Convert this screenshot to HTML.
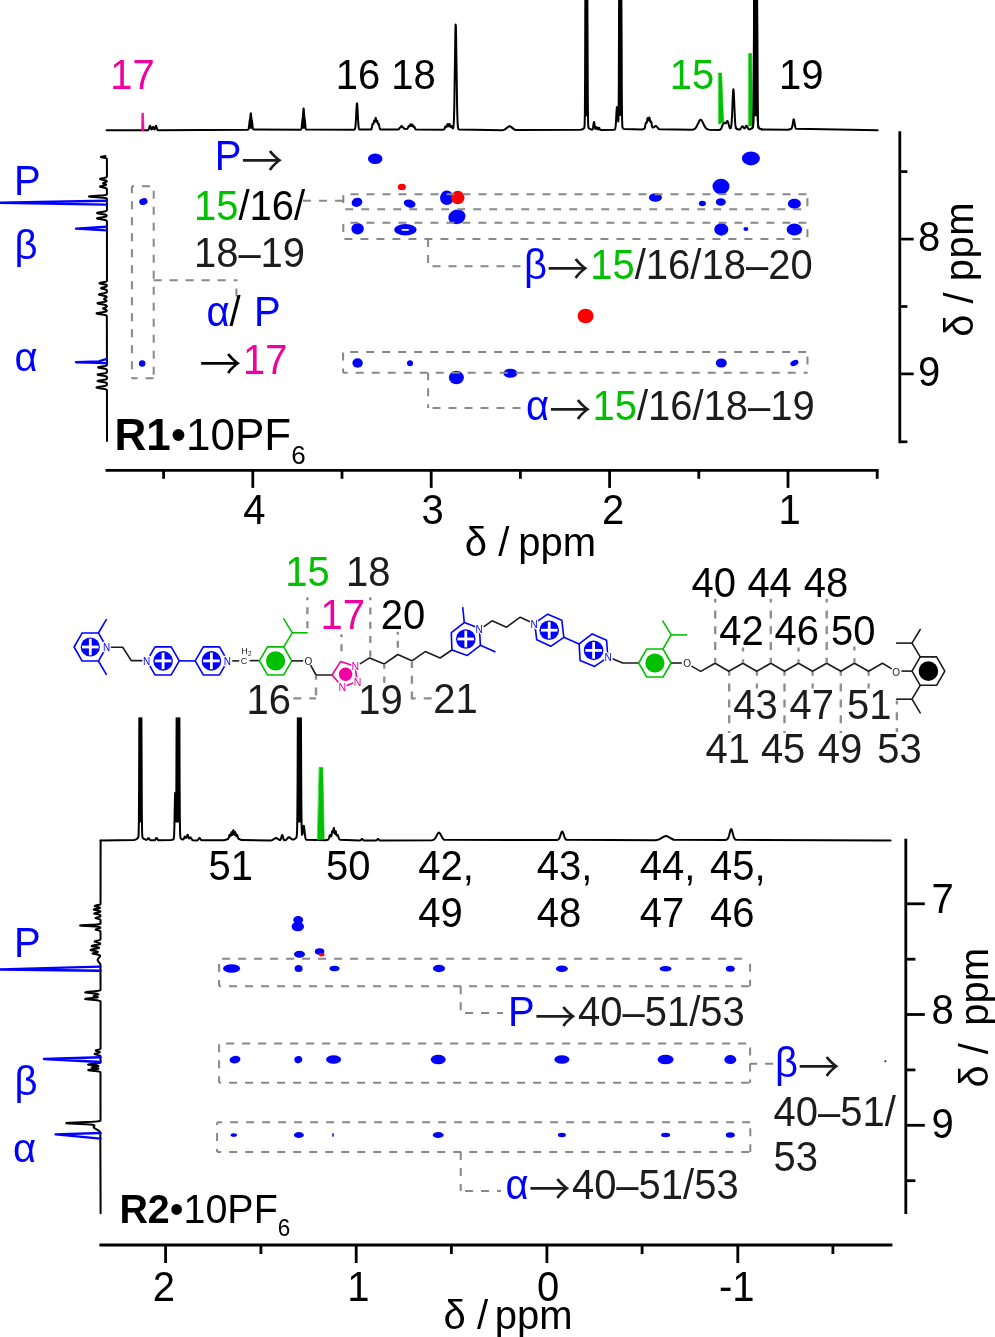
<!DOCTYPE html>
<html lang="en"><head><meta charset="utf-8"><title>NOESY spectra R1 and R2</title>
<style>html,body{margin:0;padding:0;background:#fff}svg{display:block}text{font-family:"Liberation Sans",sans-serif}.ar{font-family:"Noto Sans CJK SC","Noto Sans CJK JP","DejaVu Sans",sans-serif}</style></head><body>
<svg width="995" height="1337" viewBox="0 0 995 1337">
<rect width="995" height="1337" fill="#fff"/>
<path d="M106.6 130.3 L147.85 130.25 L148.1 130.18 L148.35 130.02 L148.6 129.69 L148.85 129.13 L149.6 126.47 L149.85 125.9 L150.1 125.84 L150.35 126.32 L151.1 128.9 L151.35 129.38 L151.6 129.49 L151.85 129.25 L152.6 127.32 L152.85 126.87 L153.1 126.83 L153.35 127.2 L154.1 129.16 L154.35 129.47 L154.6 129.43 L154.85 129.02 L155.6 126.47 L155.85 125.9 L156.1 125.84 L156.35 126.32 L157.1 128.99 L157.35 129.59 L157.6 129.96 L157.85 130.16 L247.35 129.77 L248.1 129.58 L248.35 129.36 L248.6 128.8 L248.85 127.56 L249.6 121 L250.1 119 L250.6 114.1 L250.85 113.23 L251.1 115.11 L251.35 117.85 L251.6 119.49 L251.85 120.3 L252.1 121.67 L252.6 126.4 L252.85 128.15 L253.1 129.08 L253.35 129.47 L299.85 129.81 L300.85 129.59 L301.1 129.39 L301.35 128.87 L301.6 127.66 L302.35 120.25 L302.85 117.36 L303.35 110.44 L303.6 108.48 L303.85 110.44 L304.35 117.35 L304.85 120.25 L305.6 127.66 L305.85 128.87 L306.1 129.39 L306.35 129.58 L353.6 129.77 L354.35 129.59 L354.6 129.44 L354.85 129.11 L355.1 128.44 L355.35 127.12 L355.6 124.82 L356.1 116.62 L356.6 106.65 L356.85 103.71 L357.1 103.42 L357.35 105.88 L358.1 120.43 L358.35 124.2 L358.6 126.72 L358.85 128.2 L359.1 128.98 L359.35 129.35 L359.85 129.61 L370.6 129.6 L371.1 129.46 L371.35 129.23 L371.6 128.74 L371.85 127.81 L372.35 124.98 L372.6 123.96 L372.85 123.74 L373.1 124.03 L373.35 124.07 L373.6 123.28 L374.1 120.78 L374.35 120.67 L374.6 121.3 L374.85 121.64 L375.1 120.85 L375.6 117.93 L375.85 118.09 L376.35 121.1 L376.6 121.65 L377.1 120.6 L377.35 120.93 L377.85 123.49 L378.1 124.1 L378.6 123.71 L378.85 124.09 L379.6 128.01 L379.85 128.85 L380.1 129.27 L380.35 129.46 L398.1 129.62 L398.6 129.43 L398.85 129.2 L399.6 127.95 L399.85 127.68 L400.35 127.57 L400.6 127.41 L401.35 125.84 L401.6 125.76 L401.85 126.14 L402.35 127.16 L402.6 127.32 L403.1 127.3 L403.35 127.49 L404.1 128.6 L404.35 128.8 L404.85 128.92 L407.1 128.72 L407.35 128.61 L407.6 128.38 L407.85 127.96 L408.6 126.14 L408.85 125.96 L409.1 126.15 L409.35 126.46 L409.6 126.53 L409.85 126.13 L410.35 124.55 L410.6 124.23 L410.85 124.54 L411.35 125.88 L411.6 125.97 L411.85 125.49 L412.1 124.81 L412.35 124.43 L412.6 124.69 L413.1 126.35 L413.35 126.89 L413.6 126.95 L414.1 126.5 L414.35 126.64 L415.1 128.51 L415.35 128.99 L415.6 129.28 L416.1 129.49 L443.35 129.63 L443.85 129.51 L444.1 129.35 L444.35 129.04 L445.35 126.45 L445.6 126.34 L445.85 126.64 L446.1 127.1 L446.35 127.3 L446.6 126.98 L447.35 124.16 L447.6 124.03 L447.85 124.64 L448.35 126.28 L448.6 126.34 L448.85 125.7 L449.35 123.97 L449.6 123.9 L449.85 124.57 L450.35 126.56 L450.6 126.98 L450.85 126.83 L451.35 125.96 L451.6 125.94 L451.85 126.38 L452.35 127.77 L452.6 128.25 L452.85 128.41 L453.1 128.17 L453.35 127.3 L453.6 125.32 L453.85 121.37 L454.1 114.36 L454.35 103.27 L455.35 33.34 L455.6 24.62 L455.85 25.65 L456.1 36.15 L457.1 106.09 L457.35 116.35 L457.6 122.7 L457.85 126.22 L458.1 128 L458.35 128.83 L458.6 129.21 L459.1 129.49 L502.85 130.13 L504.6 129.63 L508.6 126.55 L509.35 126.28 L510.1 126.34 L511.1 126.88 L514.1 129.37 L515.85 130.05 L580.6 129.73 L582.6 129.17 L583.6 128.57 L584.1 128.06 L584.35 127.48 L584.6 125.19 L584.85 114.85 L585.1 75.67 L585.35 -10 L587.35 -10 L587.85 104.59 L588.1 122.71 L588.35 126.94 L588.6 127.89 L589.1 128.47 L590.6 129.32 L591.85 129.63 L592.1 129.64 L592.35 129.55 L592.6 129.24 L592.85 128.52 L593.1 127.23 L593.6 123.47 L593.85 122.14 L594.1 122.03 L594.35 123.18 L594.85 126.97 L595.1 128.29 L595.35 128.88 L595.6 128.8 L596.35 127.12 L596.6 127.08 L596.85 127.51 L597.35 128.9 L597.6 129.34 L597.85 129.43 L598.1 129.18 L598.6 128.08 L598.85 127.66 L599.1 127.63 L599.35 127.99 L599.85 129.18 L600.1 129.64 L600.35 129.91 L600.85 130.09 L614.1 129.73 L614.6 129.59 L614.85 129.41 L615.1 129 L615.35 128.13 L615.6 126.46 L615.85 123.65 L616.6 110.38 L616.85 107.44 L617.1 107.01 L617.35 109.2 L618.1 121.03 L618.35 121.41 L618.6 113.04 L618.85 79.81 L619.1 -10 L621.35 -10 L621.6 34.84 L621.85 98.77 L622.1 120.33 L622.35 126.29 L622.6 127.78 L622.85 128.23 L623.85 128.96 L641.6 129.44 L643.85 129.03 L644.35 128.75 L644.6 128.39 L644.85 127.71 L645.6 123.67 L645.85 122.68 L646.1 122.46 L646.35 122.76 L646.6 122.92 L646.85 122.28 L647.35 119.02 L647.6 117.98 L647.85 118.18 L648.35 120.29 L648.6 120.33 L649.1 118 L649.35 117.43 L649.6 118.11 L650.1 121.21 L650.35 121.95 L650.6 121.85 L650.85 121.46 L651.1 121.5 L651.35 122.31 L652.1 126.35 L652.35 127.08 L652.6 127.45 L652.85 127.58 L653.35 127.54 L655.35 126.11 L655.85 125.99 L656.35 126.18 L658.6 128.82 L659.35 129.33 L692.35 129.67 L694.1 129.19 L695.1 128.55 L696.1 127.41 L699.35 120.94 L699.85 120.23 L700.35 119.82 L700.6 119.74 L700.85 119.75 L701.35 120.03 L701.85 120.62 L704.85 126.7 L705.85 128.1 L706.85 128.95 L708.85 129.63 L719.1 129.95 L719.85 129.77 L720.35 129.5 L720.85 129 L721.6 127.73 L723.1 123.99 L723.6 123.14 L723.85 122.91 L724.1 122.82 L724.35 122.85 L725.1 123.3 L725.35 123.38 L725.6 123.35 L725.85 123.17 L726.85 121.44 L727.1 121.12 L727.35 121.01 L727.6 121.16 L727.85 121.6 L729.35 126.87 L729.85 127.97 L730.1 128.26 L730.35 128.36 L730.6 128.25 L730.85 127.85 L731.1 127 L731.35 125.49 L731.6 123.02 L732.1 114.41 L732.85 95.77 L733.1 91.26 L733.35 89.22 L733.6 90.11 L733.85 93.72 L734.85 117.53 L735.1 121.72 L735.35 124.65 L735.6 126.55 L735.85 127.69 L736.1 128.34 L736.35 128.72 L736.85 129.09 L738.85 129.57 L739.6 129.51 L740.1 129.27 L740.6 128.78 L741.85 126.81 L742.1 126.53 L742.35 126.37 L742.6 126.36 L742.85 126.49 L744.1 128.18 L744.35 128.38 L744.6 128.42 L744.85 128.29 L745.35 127.54 L746.1 126.05 L746.35 125.79 L746.6 125.76 L746.85 125.97 L748.1 128.5 L748.6 129.11 L749.1 129.33 L750.35 129.14 L751.85 128.41 L752.35 127.99 L752.6 127.67 L752.85 127.05 L753.1 125.41 L753.35 120.5 L753.6 106.53 L753.85 71.23 L754.1 -6.23 L754.35 -10 L756.85 -10 L757.1 -6.22 L757.35 71.25 L757.6 106.55 L757.85 120.51 L758.1 125.43 L758.35 127.07 L758.6 127.69 L759.35 128.44 L761.6 129.4 L788.1 129.69 L790.6 129.04 L791.35 128.59 L791.6 128.31 L791.85 127.86 L792.1 127.16 L792.6 124.75 L793.35 120.07 L793.6 119.33 L793.85 119.41 L794.1 120.3 L795.1 126.37 L795.35 127.33 L795.6 127.97 L795.85 128.38 L796.35 128.82 L877.6 130.29" fill="none" stroke="#000" stroke-width="2" stroke-linejoin="round" stroke-linecap="round" />
<path d="M582.4 116.3 L583.65 116.3 L584.15 116.3 L584.4 116.3 L584.65 116.3 L584.9 110.39 L585.15 60.75 L585.4 -10 L587.4 -10 L587.65 60.75 L587.9 110.39 L588.15 116.3 L588.4 116.3 L588.65 116.3 L589.4 116.3 L590.4 116.3 Z" fill="#000" stroke="none"/>
<path d="M616.3 115.85 L616.55 111.2 L616.8 107.85 L617.05 106.88 L617.3 108.59 L618.05 116.3 L618.3 116.3 L618.55 115.96 L618.8 89.8 L619.05 12.93 L619.3 -10 L621.3 -10 L621.55 13.22 L621.8 90.59 L622.05 116.3 L622.3 116.3 L622.55 116.3 L622.8 116.3 L623.8 116.3 L624.3 116.3 Z" fill="#000" stroke="none"/>
<path d="M247.8 128.8 L248.05 128.8 L248.3 128.8 L248.55 128.8 L248.8 127.87 L249.55 121.31 L250.05 119.27 L250.3 117.36 L250.55 114.57 L250.8 113.16 L251.05 114.57 L251.3 117.36 L251.55 119.27 L252.05 121.31 L252.8 127.87 L253.05 128.8 L253.3 128.8 L253.55 128.8 L253.8 128.8 Z" fill="#000" stroke="none"/>
<path d="M300.6 128.8 L300.85 128.8 L301.1 128.8 L301.35 128.8 L301.6 127.66 L302.35 120.25 L302.85 117.36 L303.35 110.44 L303.6 108.48 L303.85 110.44 L304.35 117.35 L304.85 120.25 L305.6 127.66 L305.85 128.8 L306.1 128.8 L306.35 128.8 L306.6 128.8 Z" fill="#000" stroke="none"/>
<path d="M142.2 113.2 L143.4 113.2 L144 130.6 L142 130.6 Z" fill="#f000a0" stroke="#f000a0" stroke-width="0.8" stroke-linejoin="round" stroke-linecap="round" />
<path d="M718.6 73 L721.6 73 L723.6 122 L718.8 124 Z" fill="#00c000" stroke="#00c000" stroke-width="0.6" stroke-linejoin="round" stroke-linecap="round" />
<path d="M748.8 53.6 L751.6 53.6 L752.6 126 L748.6 126 Z" fill="#00c000" stroke="#00c000" stroke-width="0.6" stroke-linejoin="round" stroke-linecap="round" />
<path d="M752.2 128.13 L752.45 127.88 L752.7 127.48 L752.95 126.6 L753.2 124.05 L753.45 116.51 L753.7 95.95 L754.2 -10 L756.95 -10 L757.2 31.48 L757.45 89.07 L757.7 113.82 L757.95 123.13 L758.2 126.3 L758.45 127.38 L758.7 127.84 L759.7 128.66 L761.95 129.48" fill="none" stroke="#000" stroke-width="2" stroke-linejoin="round" stroke-linecap="round" />
<path d="M751.6 116.3 L752.35 116.3 L752.6 116.3 L752.85 116.3 L753.1 116.3 L753.35 116.3 L753.6 106.53 L753.85 71.23 L754.1 -6.23 L754.35 -10 L756.85 -10 L757.1 -6.22 L757.35 71.25 L757.6 106.55 L757.85 116.3 L758.1 116.3 L758.35 116.3 L758.6 116.3 L759.35 116.3 L759.6 116.3 Z" fill="#000" stroke="none"/>
<text transform="translate(110.32 89.2) scale(1 1.04)" font-size="40" fill="#f000a0" text-anchor="start" >17</text>
<text transform="translate(335.64 89.2) scale(1 1.04)" font-size="40" fill="#000" text-anchor="start" >16 18</text>
<text transform="translate(669.69 89.2) scale(1 1.04)" font-size="40" fill="#00c000" text-anchor="start" >15</text>
<text transform="translate(779 89.2) scale(1 1.04)" font-size="40" fill="#000" text-anchor="start" >19</text>
<path d="M105.5 156 L101.5 156.75 L101 157 L101.5 157.25 L105.5 158 L106.32 158.25 L106.74 158.5 L106.91 158.75 L106.95 176.5 L106.87 176.75 L106.69 177 L106.36 177.25 L105.79 177.5 L103.8 178 L101.24 178.5 L100.33 178.75 L100 179 L100.33 179.25 L104.93 180.25 L105.79 180.5 L106.35 180.75 L106.66 181 L106.78 181.25 L106.74 181.5 L106.51 181.75 L106.07 182 L103.75 182.75 L103.16 183 L103.01 183.25 L103.35 183.5 L105.61 184.25 L106.06 184.5 L106.17 184.75 L105.91 185 L105.26 185.25 L100.64 186.25 L100.05 186.5 L100.12 186.75 L100.82 187 L105.49 188 L106.17 188.25 L106.58 188.5 L106.81 188.75 L106.97 194 L106.9 194.25 L106.7 194.5 L106.21 194.75 L105.19 195 L103.35 195.25 L90.11 196.25 L89 196.5 L90.11 196.75 L103.35 197.75 L105.19 198 L106.21 198.25 L106.7 198.5 L106.9 198.75 L106.96 210 L106.79 210.5 L106.56 210.75 L106.15 211 L105.49 211.25 L103.19 211.75 L98.43 212.5 L97.38 212.75 L97 213 L97.38 213.25 L98.43 213.5 L104.51 214.5 L105.49 214.75 L106.15 215 L106.54 215.25 L106.73 215.5 L106.78 215.75 L106.68 216 L106.41 216.25 L105.92 216.5 L105.14 216.75 L102.58 217.25 L97.94 218 L97.14 218.25 L97.06 218.5 L97.73 218.75 L103.75 219.75 L104.94 220 L105.79 220.25 L106.34 220.5 L106.67 220.75 L106.93 221.25 L106.97 280.5 L106.83 281 L106.62 281.25 L106.22 281.5 L105.55 281.75 L100.6 282.75 L99.73 283 L99.51 283.25 L100.01 283.5 L105 284.5 L105.85 284.75 L106.4 285 L106.71 285.25 L106.86 285.5 L106.9 285.75 L106.85 286 L106.69 286.25 L106.37 286.5 L105.84 286.75 L101.88 287.75 L101.18 288 L101.01 288.25 L101.41 288.5 L105.4 289.5 L106.08 289.75 L106.52 290 L106.77 290.25 L106.96 290.75 L106.92 291.75 L106.65 292.25 L106.32 292.5 L105.79 292.75 L103.95 293.25 L100.14 294 L99.3 294.25 L99 294.5 L99.3 294.75 L100.14 295 L105 296 L105.78 296.25 L106.3 296.5 L106.59 296.75 L106.7 297 L106.65 297.25 L106.45 297.5 L105.62 298 L104.53 298.5 L104.14 298.75 L104 299 L104.14 299.25 L106.08 300.25 L106.41 300.5 L106.55 300.75 L106.51 301 L106.23 301.25 L105.69 301.5 L103.65 302 L99.12 302.75 L98.01 303 L97.51 303.25 L97.73 303.5 L98.62 303.75 L104.41 304.75 L105.4 305 L106.09 305.25 L106.52 305.5 L106.76 305.75 L106.86 306 L106.88 306.25 L106.81 306.5 L106.63 306.75 L106.31 307 L105.17 307.5 L103.71 308 L103.19 308.25 L103 308.5 L103.19 308.75 L105.82 309.75 L106.3 310 L106.61 310.25 L106.77 310.5 L106.79 310.75 L106.67 311 L106.38 311.25 L105.87 311.5 L105.04 311.75 L102.36 312.25 L97.49 313 L96.64 313.25 L96.56 313.5 L97.26 313.75 L103.59 314.75 L104.84 315 L105.73 315.25 L106.31 315.5 L106.65 315.75 L106.84 316 L106.96 364.75 L106.76 365.25 L106.46 365.5 L105.93 365.75 L105.05 366 L99.06 367 L98.16 367.25 L98.07 367.5 L98.82 367.75 L104.83 368.75 L105.78 369 L106.38 369.25 L106.71 369.5 L106.88 369.75 L106.95 372 L106.87 372.25 L106.7 372.5 L106.34 372.75 L105.71 373 L104.71 373.25 L98.37 374.25 L97.57 374.5 L97.67 374.75 L98.62 375 L104.95 376 L105.87 376.25 L106.43 376.5 L106.74 376.75 L106.96 377.25 L106.93 378.5 L106.82 378.75 L106.58 379 L106.13 379.25 L105.36 379.5 L102.65 380 L99.19 380.5 L97.95 380.75 L97.5 381 L97.95 381.25 L104.2 382.25 L105.36 382.5 L106.13 382.75 L106.58 383 L106.82 383.25 L106.97 383.75 L106.9 384.75 L106.78 385 L106.54 385.25 L106.11 385.5 L105.41 385.75 L103 386.25 L98 387 L96.9 387.25 L96.5 387.5 L96.9 387.75 L98 388 L104.38 389 L105.41 389.25 L106.11 389.5 L106.54 389.75 L106.78 390 L106.96 390.5 L107 441" fill="none" stroke="#000" stroke-width="2" stroke-linejoin="round" stroke-linecap="round" />
<path d="M106.8 200.8 L-6 202.8 L106.8 204.6" fill="none" stroke="#0000ff" stroke-width="2.4" stroke-linejoin="round" stroke-linecap="round" />
<path d="M106.8 226.8 L76 228.6 L106.8 230.4" fill="none" stroke="#0000ff" stroke-width="2.4" stroke-linejoin="round" stroke-linecap="round" />
<path d="M106.8 358.8 L99 361.4 L76 362.2 L99 362.9 L106.8 363.3" fill="none" stroke="#0000ff" stroke-width="2.4" stroke-linejoin="round" stroke-linecap="round" />
<text transform="translate(14 195.4) scale(1 1.04)" font-size="40" fill="#0000ff" text-anchor="start" >P</text>
<text x="14.5" y="259" font-size="40" fill="#0000ff" text-anchor="start" >β</text>
<text x="14.6" y="370.6" font-size="40" fill="#0000ff" text-anchor="start" >α</text>
<ellipse cx="375.2" cy="158.8" rx="7.25" ry="5.25" fill="#0000ff"/>
<ellipse cx="401.9" cy="187" rx="4" ry="3.25" fill="#ff0000"/>
<ellipse cx="357" cy="202.3" rx="5.5" ry="4.5" fill="#0000ff" transform="rotate(-20 357 202.3)"/>
<ellipse cx="409.6" cy="203.6" rx="6" ry="4" fill="#0000ff" transform="rotate(15 409.6 203.6)"/>
<ellipse cx="446.8" cy="197.8" rx="6.75" ry="7.25" fill="#0000ff"/>
<ellipse cx="457.8" cy="197.6" rx="6.75" ry="6.75" fill="#ff0000"/>
<ellipse cx="456.9" cy="216.8" rx="8.75" ry="7.25" fill="#0000ff" transform="rotate(-15 456.9 216.8)"/>
<ellipse cx="357.6" cy="228.8" rx="6.25" ry="5.75" fill="#0000ff"/>
<ellipse cx="405.4" cy="229.8" rx="11.25" ry="5.75" fill="#0000ff"/>
<rect x="401.6" y="229.0" width="7.4" height="1.7" rx="0.85" fill="#fff"/>
<ellipse cx="143.4" cy="201.6" rx="4.25" ry="3.25" fill="#0000ff" transform="rotate(-20 143.4 201.6)"/>
<ellipse cx="142.2" cy="363.6" rx="3.25" ry="3.25" fill="#0000ff"/>
<ellipse cx="750.9" cy="158.4" rx="9" ry="7" fill="#0000ff"/>
<ellipse cx="721" cy="186.6" rx="8.5" ry="7.75" fill="#0000ff"/>
<ellipse cx="655.4" cy="197.6" rx="6.5" ry="4.25" fill="#0000ff"/>
<ellipse cx="702.4" cy="203.4" rx="3.5" ry="2.75" fill="#0000ff"/>
<ellipse cx="720.8" cy="202" rx="5" ry="3.75" fill="#0000ff"/>
<ellipse cx="794.4" cy="203.8" rx="6.5" ry="5" fill="#0000ff"/>
<ellipse cx="721.3" cy="229.4" rx="7" ry="6.25" fill="#0000ff"/>
<ellipse cx="745.9" cy="229" rx="2.5" ry="2" fill="#0000ff"/>
<ellipse cx="794.4" cy="229.4" rx="7.75" ry="6" fill="#0000ff"/>
<ellipse cx="585.6" cy="316" rx="8" ry="7.25" fill="#ff0000"/>
<ellipse cx="357.6" cy="363" rx="5.25" ry="4.75" fill="#0000ff"/>
<ellipse cx="410" cy="363.2" rx="3" ry="3" fill="#0000ff"/>
<ellipse cx="456.4" cy="377.6" rx="7.5" ry="6.75" fill="#0000ff"/>
<ellipse cx="510.4" cy="373.2" rx="7" ry="4.5" fill="#0000ff"/>
<ellipse cx="721.3" cy="363" rx="5.5" ry="4.5" fill="#0000ff"/>
<ellipse cx="794.4" cy="363" rx="4.25" ry="2.75" fill="#0000ff" transform="rotate(-25 794.4 363)"/>
<line x1="131.9" y1="186.2" x2="153.7" y2="186.2" stroke="#85888c" stroke-width="2" stroke-dasharray="8 8" stroke-dashoffset="5.9"/>
<line x1="131.9" y1="378.3" x2="153.7" y2="378.3" stroke="#85888c" stroke-width="2" stroke-dasharray="8 8" stroke-dashoffset="2.3"/>
<line x1="131.9" y1="186.2" x2="131.9" y2="378.3" stroke="#85888c" stroke-width="2" stroke-dasharray="8 8" stroke-dashoffset="0.9"/>
<line x1="153.7" y1="186.2" x2="153.7" y2="378.3" stroke="#85888c" stroke-width="2" stroke-dasharray="8 8" stroke-dashoffset="11.4"/>
<line x1="153.7" y1="280.3" x2="237.4" y2="280.3" stroke="#85888c" stroke-width="2" stroke-dasharray="8 8" stroke-dashoffset="0"/>
<line x1="236.4" y1="280.3" x2="236.4" y2="297.6" stroke="#85888c" stroke-width="2" stroke-dasharray="8 8" stroke-dashoffset="7.7"/>
<line x1="343.3" y1="194.2" x2="807.4" y2="194.2" stroke="#85888c" stroke-width="2" stroke-dasharray="8 8" stroke-dashoffset="8.8"/>
<line x1="343.3" y1="209.3" x2="807.4" y2="209.3" stroke="#85888c" stroke-width="2" stroke-dasharray="8 8" stroke-dashoffset="14.1"/>
<line x1="343.3" y1="194.2" x2="343.3" y2="209.3" stroke="#85888c" stroke-width="2" stroke-dasharray="8 8" stroke-dashoffset="15.1"/>
<line x1="807.4" y1="194.2" x2="807.4" y2="209.3" stroke="#85888c" stroke-width="2" stroke-dasharray="8 8" stroke-dashoffset="12"/>
<line x1="343.3" y1="222.8" x2="807.4" y2="222.8" stroke="#85888c" stroke-width="2" stroke-dasharray="8 8" stroke-dashoffset="8.9"/>
<line x1="343.3" y1="239.1" x2="807.4" y2="239.1" stroke="#85888c" stroke-width="2" stroke-dasharray="8 8" stroke-dashoffset="14.9"/>
<line x1="343.3" y1="222.8" x2="343.3" y2="239.1" stroke="#85888c" stroke-width="2" stroke-dasharray="8 8" stroke-dashoffset="14.8"/>
<line x1="807.4" y1="222.8" x2="807.4" y2="239.1" stroke="#85888c" stroke-width="2" stroke-dasharray="8 8" stroke-dashoffset="9.6"/>
<line x1="343.1" y1="352" x2="807.5" y2="352" stroke="#85888c" stroke-width="2" stroke-dasharray="8 8" stroke-dashoffset="8.9"/>
<line x1="343.1" y1="372.7" x2="807.5" y2="372.7" stroke="#85888c" stroke-width="2" stroke-dasharray="8 8" stroke-dashoffset="3.4"/>
<line x1="343.1" y1="352" x2="343.1" y2="372.7" stroke="#85888c" stroke-width="2" stroke-dasharray="8 8" stroke-dashoffset="15.4"/>
<line x1="807.5" y1="352" x2="807.5" y2="372.7" stroke="#85888c" stroke-width="2" stroke-dasharray="8 8" stroke-dashoffset="11.5"/>
<line x1="303" y1="200.7" x2="343.4" y2="200.7" stroke="#85888c" stroke-width="2" stroke-dasharray="8 8" stroke-dashoffset="0"/>
<line x1="428.1" y1="239.1" x2="428.1" y2="266.2" stroke="#85888c" stroke-width="2" stroke-dasharray="8 8" stroke-dashoffset="0"/>
<line x1="428.1" y1="266.2" x2="522" y2="266.2" stroke="#85888c" stroke-width="2" stroke-dasharray="8 8" stroke-dashoffset="11.6"/>
<line x1="428.1" y1="372.7" x2="428.1" y2="407.9" stroke="#85888c" stroke-width="2" stroke-dasharray="8 8" stroke-dashoffset="0.5"/>
<line x1="428.1" y1="407.9" x2="522" y2="407.9" stroke="#85888c" stroke-width="2" stroke-dasharray="8 8" stroke-dashoffset="11.6"/>
<text transform="translate(249 170.4) scale(1 1.04)" font-size="40" fill="#1c1c1c" text-anchor="middle" ><tspan fill="#0000ff" >P</tspan><tspan class="ar" font-size="42" font-weight="350" dy="6">→</tspan></text>
<text transform="translate(249.5 219.6) scale(1 1.04)" font-size="40" fill="#000" text-anchor="middle" ><tspan fill="#00c000" >15</tspan>/16/</text>
<text transform="translate(249.5 266.8) scale(1 1.04)" font-size="40" fill="#1c1c1c" text-anchor="middle" >18–19</text>
<text transform="translate(243.6 326.2) scale(1 1.04)" font-size="40" fill="#000" text-anchor="middle" ><tspan fill="#0000ff" >α</tspan>/ <tspan fill="#0000ff" dx="2.3">P</tspan></text>
<text transform="translate(243.5 373.8) scale(1 1.04)" font-size="40" fill="#000" text-anchor="middle" ><tspan class="ar" font-size="42" font-weight="350" dy="6">→</tspan><tspan dy="-6" dx="1.3"><tspan fill="#f000a0" >17</tspan></tspan></text>
<text transform="translate(524 279.2) scale(1 1.04)" font-size="40" fill="#1c1c1c" text-anchor="start" ><tspan fill="#0000ff" >β</tspan><tspan class="ar" font-size="42" font-weight="350" dy="6">→</tspan><tspan dy="-6" dx="1.3"><tspan fill="#00c000" >15</tspan>/16/18–20</tspan></text>
<text transform="translate(526 420.2) scale(1 1.04)" font-size="40" fill="#1c1c1c" text-anchor="start" ><tspan fill="#0000ff" >α</tspan><tspan class="ar" font-size="42" font-weight="350" dy="6">→</tspan><tspan dy="-6" dx="1.3"><tspan fill="#00c000" >15</tspan>/16/18–19</tspan></text>
<text transform="translate(114.4 449.8) scale(1 1.02)" font-size="44" fill="#000" text-anchor="start" ><tspan font-weight="bold">R1</tspan>•10PF<tspan font-size="26" dy="14.2">6</tspan></text>
<line x1="899.8" y1="131.2" x2="899.8" y2="443.2" stroke="#000" stroke-width="2.8" />
<line x1="899.8" y1="171.6" x2="907.4" y2="171.6" stroke="#000" stroke-width="2.7" />
<line x1="899.8" y1="239.1" x2="913.7" y2="239.1" stroke="#000" stroke-width="2.7" />
<line x1="899.8" y1="306.5" x2="907.4" y2="306.5" stroke="#000" stroke-width="2.7" />
<line x1="899.8" y1="373.9" x2="913.7" y2="373.9" stroke="#000" stroke-width="2.7" />
<line x1="899.8" y1="441.8" x2="907.4" y2="441.8" stroke="#000" stroke-width="2.7" />
<text transform="translate(918 250.6) scale(1 1.04)" font-size="40" fill="#000" text-anchor="start" >8</text>
<text transform="translate(918 386.4) scale(1 1.04)" font-size="40" fill="#000" text-anchor="start" >9</text>
<text transform="translate(972.8 336.8) rotate(-90)" font-size="40" fill="#000">δ / <tspan letter-spacing="0.5">ppm</tspan></text>
<line x1="105.6" y1="470.3" x2="878.6" y2="470.3" stroke="#000" stroke-width="2.8" />
<line x1="163.6" y1="470.3" x2="163.6" y2="478.8" stroke="#000" stroke-width="2.8" />
<line x1="252.8" y1="470.3" x2="252.8" y2="487.9" stroke="#000" stroke-width="2.8" />
<line x1="342" y1="470.3" x2="342" y2="478.8" stroke="#000" stroke-width="2.8" />
<line x1="431.2" y1="470.3" x2="431.2" y2="487.9" stroke="#000" stroke-width="2.8" />
<line x1="520.4" y1="470.3" x2="520.4" y2="478.8" stroke="#000" stroke-width="2.8" />
<line x1="609.6" y1="470.3" x2="609.6" y2="487.9" stroke="#000" stroke-width="2.8" />
<line x1="698.8" y1="470.3" x2="698.8" y2="478.8" stroke="#000" stroke-width="2.8" />
<line x1="788" y1="470.3" x2="788" y2="487.9" stroke="#000" stroke-width="2.8" />
<line x1="877.2" y1="470.3" x2="877.2" y2="478.8" stroke="#000" stroke-width="2.8" />
<text transform="translate(254.4 523.9) scale(1 1.04)" font-size="40" fill="#000" text-anchor="middle" >4</text>
<text transform="translate(432.7 523.9) scale(1 1.04)" font-size="40" fill="#000" text-anchor="middle" >3</text>
<text transform="translate(613 523.9) scale(1 1.04)" font-size="40" fill="#000" text-anchor="middle" >2</text>
<text transform="translate(789.5 523.9) scale(1 1.04)" font-size="40" fill="#000" text-anchor="middle" >1</text>
<text x="464.8" y="556.4" font-size="40" fill="#000" text-anchor="start" >δ / <tspan dx="-2.2">ppm</tspan></text>
<path d="M106.5 647 L98.4 632.97 L82.2 632.97 L74.1 647 L82.2 661.03 L98.4 661.03 Z" fill="none" stroke="#0000ff" stroke-width="1.6" stroke-linejoin="round" stroke-linecap="round" />
<circle cx="90.3" cy="647" r="9.6" fill="#0000ff"/>
<line x1="82" y1="647" x2="98.6" y2="647" stroke="#fff" stroke-width="2.8" />
<line x1="90.3" y1="638.7" x2="90.3" y2="655.3" stroke="#fff" stroke-width="2.8" />
<line x1="98.4" y1="632.97" x2="106.6" y2="619.1" stroke="#0000ff" stroke-width="1.6" />
<line x1="98.4" y1="661.03" x2="106.6" y2="674.9" stroke="#0000ff" stroke-width="1.6" />
<text x="106.6" y="650.8" font-size="10" fill="#0000ff" text-anchor="middle" stroke="#fff" stroke-width="2.4" paint-order="stroke" stroke-linejoin="round">N</text>
<path d="M111.4 647.2 L122.7 647.2 L131.3 660.6 L142.2 660.6" fill="none" stroke="#1c1c1c" stroke-width="1.6" stroke-linejoin="round" stroke-linecap="round" />
<path d="M179.3 660.9 L171.2 646.87 L155 646.87 L146.9 660.9 L155 674.93 L171.2 674.93 Z" fill="none" stroke="#0000ff" stroke-width="1.6" stroke-linejoin="round" stroke-linecap="round" />
<circle cx="163.1" cy="660.9" r="9.8" fill="#0000ff"/>
<line x1="154.8" y1="660.9" x2="171.4" y2="660.9" stroke="#fff" stroke-width="2.8" />
<line x1="163.1" y1="652.6" x2="163.1" y2="669.2" stroke="#fff" stroke-width="2.8" />
<text x="146.6" y="664.5" font-size="10" fill="#0000ff" text-anchor="middle" stroke="#fff" stroke-width="2.4" paint-order="stroke" stroke-linejoin="round">N</text>
<line x1="179.3" y1="660.9" x2="195.2" y2="660.9" stroke="#0000ff" stroke-width="1.6" />
<path d="M227.6 660.9 L219.5 646.87 L203.3 646.87 L195.2 660.9 L203.3 674.93 L219.5 674.93 Z" fill="none" stroke="#0000ff" stroke-width="1.6" stroke-linejoin="round" stroke-linecap="round" />
<circle cx="211.4" cy="660.9" r="9.8" fill="#0000ff"/>
<line x1="203.1" y1="660.9" x2="219.7" y2="660.9" stroke="#fff" stroke-width="2.8" />
<line x1="211.4" y1="652.6" x2="211.4" y2="669.2" stroke="#fff" stroke-width="2.8" />
<text x="227.4" y="664.5" font-size="10" fill="#0000ff" text-anchor="middle" stroke="#fff" stroke-width="2.4" paint-order="stroke" stroke-linejoin="round">N</text>
<line x1="232.2" y1="660.9" x2="239.2" y2="660.9" stroke="#1c1c1c" stroke-width="1.6" />
<text x="244" y="664.44" font-size="9" fill="#1c1c1c" text-anchor="middle" stroke="#fff" stroke-width="2.4" paint-order="stroke" stroke-linejoin="round">C</text>
<text x="244.4" y="654.44" font-size="9" fill="#1c1c1c" text-anchor="middle" stroke="#fff" stroke-width="2.4" paint-order="stroke" stroke-linejoin="round">H</text>
<text x="248.0" y="655.8" font-size="6.5" fill="#1c1c1c">2</text>
<line x1="249.6" y1="660.6" x2="259.4" y2="660.6" stroke="#1c1c1c" stroke-width="1.6" />
<path d="M291.8 660.9 L283.7 646.87 L267.5 646.87 L259.4 660.9 L267.5 674.93 L283.7 674.93 Z" fill="none" stroke="#00c000" stroke-width="1.6" stroke-linejoin="round" stroke-linecap="round" />
<circle cx="275.6" cy="660.9" r="9.6" fill="#00c000"/>
<path d="M283.7 646.87 L292.3 632.8 L283.8 618.9" fill="none" stroke="#00c000" stroke-width="1.6" stroke-linejoin="round" stroke-linecap="round" />
<line x1="292.3" y1="632.8" x2="307.7" y2="632.8" stroke="#00c000" stroke-width="1.6" />
<line x1="291.8" y1="660.9" x2="303.2" y2="660.9" stroke="#1c1c1c" stroke-width="1.6" />
<text x="308.4" y="664.8" font-size="10" fill="#1c1c1c" text-anchor="middle" stroke="#fff" stroke-width="2.4" paint-order="stroke" stroke-linejoin="round">O</text>
<path d="M310.9 665.6 L316 675 L332.1 675" fill="none" stroke="#1c1c1c" stroke-width="1.6" stroke-linejoin="round" stroke-linecap="round" />
<path d="M332.1 675 L340.5 661.6 L355 666.2 L357.2 681.6 L342.5 687 Z" fill="none" stroke="#f000a0" stroke-width="1.6" stroke-linejoin="round" stroke-linecap="round" />
<circle cx="345.6" cy="674.2" r="6.7" fill="#f000a0"/>
<text x="355.4" y="669.78" font-size="10.5" fill="#f000a0" text-anchor="middle" stroke="#fff" stroke-width="2.4" paint-order="stroke" stroke-linejoin="round">N</text>
<text x="357.6" y="685.58" font-size="10.5" fill="#f000a0" text-anchor="middle" stroke="#fff" stroke-width="2.4" paint-order="stroke" stroke-linejoin="round">N</text>
<text x="342.4" y="691.18" font-size="10.5" fill="#f000a0" text-anchor="middle" stroke="#fff" stroke-width="2.4" paint-order="stroke" stroke-linejoin="round">N</text>
<path d="M360.4 663.6 L369.6 657.9 L384.3 663.9 L397.8 654.5 L411.9 660.8 L425.2 651.6 L440.1 658 L451.9 650" fill="none" stroke="#1c1c1c" stroke-width="1.6" stroke-linejoin="round" stroke-linecap="round" />
<path d="M451.9 650 L451.3 632.7 L464.3 622.6 L479.4 628.2 L480.4 645.3 L467.3 655.4 Z" fill="none" stroke="#0000ff" stroke-width="1.6" stroke-linejoin="round" stroke-linecap="round" />
<circle cx="465.8" cy="639" r="9.8" fill="#0000ff"/>
<line x1="457.5" y1="639" x2="474.1" y2="639" stroke="#fff" stroke-width="2.8" />
<line x1="465.8" y1="630.7" x2="465.8" y2="647.3" stroke="#fff" stroke-width="2.8" />
<line x1="464.3" y1="622.6" x2="462.7" y2="607.1" stroke="#0000ff" stroke-width="1.6" />
<line x1="480.4" y1="645.3" x2="495.5" y2="652" stroke="#0000ff" stroke-width="1.6" />
<text x="479.2" y="633" font-size="10" fill="#0000ff" text-anchor="middle" stroke="#fff" stroke-width="2.4" paint-order="stroke" stroke-linejoin="round">N</text>
<path d="M484.2 626.4 L492.1 620.8 L506.5 627.2 L520.2 617.2 L529.4 621.4" fill="none" stroke="#1c1c1c" stroke-width="1.6" stroke-linejoin="round" stroke-linecap="round" />
<path d="M534.7 623.2 L547.7 614.2 L561.8 620.2 L563.8 637.3 L550.8 646.3 L536.7 639.7 Z" fill="none" stroke="#0000ff" stroke-width="1.6" stroke-linejoin="round" stroke-linecap="round" />
<circle cx="549.2" cy="630.2" r="9.8" fill="#0000ff"/>
<line x1="540.9" y1="630.2" x2="557.5" y2="630.2" stroke="#fff" stroke-width="2.8" />
<line x1="549.2" y1="621.9" x2="549.2" y2="638.5" stroke="#fff" stroke-width="2.8" />
<text x="534" y="627.8" font-size="10" fill="#0000ff" text-anchor="middle" stroke="#fff" stroke-width="2.4" paint-order="stroke" stroke-linejoin="round">N</text>
<line x1="563.8" y1="637.3" x2="579.1" y2="643.9" stroke="#0000ff" stroke-width="1.6" />
<path d="M579.1 643.9 L592.2 633.9 L606.6 640.3 L607.8 657.4 L594.6 666.4 L580.1 660.4 Z" fill="none" stroke="#0000ff" stroke-width="1.6" stroke-linejoin="round" stroke-linecap="round" />
<circle cx="593.6" cy="650.4" r="9.8" fill="#0000ff"/>
<line x1="585.3" y1="650.4" x2="601.9" y2="650.4" stroke="#fff" stroke-width="2.8" />
<line x1="593.6" y1="642.1" x2="593.6" y2="658.7" stroke="#fff" stroke-width="2.8" />
<text x="608" y="661.2" font-size="10" fill="#0000ff" text-anchor="middle" stroke="#fff" stroke-width="2.4" paint-order="stroke" stroke-linejoin="round">N</text>
<path d="M613.2 659 L622.7 663 L638.6 663" fill="none" stroke="#1c1c1c" stroke-width="1.6" stroke-linejoin="round" stroke-linecap="round" />
<path d="M671.1 663 L663 648.97 L646.8 648.97 L638.7 663 L646.8 677.03 L663 677.03 Z" fill="none" stroke="#00c000" stroke-width="1.6" stroke-linejoin="round" stroke-linecap="round" />
<circle cx="654.9" cy="663" r="9.6" fill="#00c000"/>
<path d="M663 648.97 L671.2 634.9 L662.9 621.2" fill="none" stroke="#00c000" stroke-width="1.6" stroke-linejoin="round" stroke-linecap="round" />
<line x1="671.2" y1="634.9" x2="687" y2="634.9" stroke="#00c000" stroke-width="1.6" />
<line x1="671.1" y1="663" x2="681.8" y2="663" stroke="#1c1c1c" stroke-width="1.6" />
<text x="687.2" y="667" font-size="10" fill="#1c1c1c" text-anchor="middle" stroke="#fff" stroke-width="2.4" paint-order="stroke" stroke-linejoin="round">O</text>
<path d="M692 666.4 L700.7 671.4 L715.1 663.2 L728.8 671.3 L742.9 663.2 L756.7 671.3 L770.8 663.2 L784.5 671.3 L798.5 663.2 L812.6 671.3 L826.7 663.2 L840.8 671.3 L854.4 663.2 L868.6 671.3 L882.4 663.2 L891.4 668.6" fill="none" stroke="#1c1c1c" stroke-width="1.6" stroke-linejoin="round" stroke-linecap="round" />
<text x="896.2" y="675.6" font-size="10" fill="#1c1c1c" text-anchor="middle" stroke="#fff" stroke-width="2.4" paint-order="stroke" stroke-linejoin="round">O</text>
<line x1="901.4" y1="671.1" x2="912" y2="671.1" stroke="#1c1c1c" stroke-width="1.6" />
<path d="M944.8 671.1 L936.6 656.9 L920.2 656.9 L912 671.1 L920.2 685.3 L936.6 685.3 Z" fill="none" stroke="#1c1c1c" stroke-width="1.6" stroke-linejoin="round" stroke-linecap="round" />
<circle cx="928.4" cy="671.1" r="9.8" fill="#000"/>
<path d="M920.2 656.9 L912 643.1 L920.2 629.5" fill="none" stroke="#1c1c1c" stroke-width="1.6" stroke-linejoin="round" stroke-linecap="round" />
<line x1="912" y1="643.1" x2="896.1" y2="643.1" stroke="#1c1c1c" stroke-width="1.6" />
<path d="M920.2 685.3 L912 699.2 L920.2 712.8" fill="none" stroke="#1c1c1c" stroke-width="1.6" stroke-linejoin="round" stroke-linecap="round" />
<line x1="912" y1="699.2" x2="896.1" y2="699.2" stroke="#1c1c1c" stroke-width="1.6" />
<line x1="307.4" y1="597.2" x2="307.4" y2="632.6" stroke="#8c8f94" stroke-width="2.4" stroke-dasharray="7 7" stroke-dashoffset="4"/>
<line x1="341.5" y1="634.2" x2="341.5" y2="658.6" stroke="#8c8f94" stroke-width="2.4" stroke-dasharray="7 7" stroke-dashoffset="4"/>
<line x1="370.3" y1="597.2" x2="370.3" y2="656.8" stroke="#8c8f94" stroke-width="2.4" stroke-dasharray="7 7.3" stroke-dashoffset="4"/>
<line x1="397.8" y1="631.8" x2="397.8" y2="653.8" stroke="#8c8f94" stroke-width="2.4" stroke-dasharray="7 6" stroke-dashoffset="4"/>
<line x1="384.3" y1="665" x2="384.3" y2="682.8" stroke="#8c8f94" stroke-width="2.4" stroke-dasharray="8 7.8" stroke-dashoffset="4.2"/>
<line x1="316" y1="676" x2="316" y2="699.4" stroke="#8c8f94" stroke-width="2.4" stroke-dasharray="8 7.8" stroke-dashoffset="4.2"/>
<line x1="316" y1="698.4" x2="293.4" y2="698.4" stroke="#8c8f94" stroke-width="2.4" stroke-dasharray="8 8" stroke-dashoffset="1.3"/>
<line x1="411.9" y1="662" x2="411.9" y2="699.4" stroke="#8c8f94" stroke-width="2.4" stroke-dasharray="8 7.8" stroke-dashoffset="2"/>
<line x1="411.9" y1="698.4" x2="433.2" y2="698.4" stroke="#8c8f94" stroke-width="2.4" stroke-dasharray="8 8" stroke-dashoffset="4.2"/>
<line x1="715.2" y1="598.8" x2="715.2" y2="662.8" stroke="#8c8f94" stroke-width="2.4" stroke-dasharray="8 7.8" stroke-dashoffset="4.2"/>
<line x1="770.8" y1="598.8" x2="770.8" y2="662.8" stroke="#8c8f94" stroke-width="2.4" stroke-dasharray="8 7.8" stroke-dashoffset="4.2"/>
<line x1="826.7" y1="598.8" x2="826.7" y2="662.8" stroke="#8c8f94" stroke-width="2.4" stroke-dasharray="8 7.8" stroke-dashoffset="4.2"/>
<line x1="743" y1="647.6" x2="743" y2="662.8" stroke="#8c8f94" stroke-width="2.4" stroke-dasharray="8 7.8" stroke-dashoffset="4.2"/>
<line x1="798.5" y1="647.6" x2="798.5" y2="662.8" stroke="#8c8f94" stroke-width="2.4" stroke-dasharray="8 7.8" stroke-dashoffset="4.2"/>
<line x1="854.4" y1="646.6" x2="854.4" y2="662.8" stroke="#8c8f94" stroke-width="2.4" stroke-dasharray="8 7.8" stroke-dashoffset="4.2"/>
<line x1="729.2" y1="672" x2="729.2" y2="733" stroke="#8c8f94" stroke-width="2.4" stroke-dasharray="8 7.8" stroke-dashoffset="4.2"/>
<line x1="784.5" y1="672" x2="784.5" y2="733" stroke="#8c8f94" stroke-width="2.4" stroke-dasharray="8 7.8" stroke-dashoffset="4.2"/>
<line x1="840.8" y1="672" x2="840.8" y2="733" stroke="#8c8f94" stroke-width="2.4" stroke-dasharray="8 7.8" stroke-dashoffset="4.2"/>
<line x1="756.9" y1="672" x2="756.9" y2="688.6" stroke="#8c8f94" stroke-width="2.4" stroke-dasharray="8 7.8" stroke-dashoffset="4.2"/>
<line x1="812.6" y1="672" x2="812.6" y2="688.6" stroke="#8c8f94" stroke-width="2.4" stroke-dasharray="8 7.8" stroke-dashoffset="4.2"/>
<line x1="868.6" y1="672" x2="868.6" y2="688.6" stroke="#8c8f94" stroke-width="2.4" stroke-dasharray="8 7.8" stroke-dashoffset="4.2"/>
<line x1="896.9" y1="700.6" x2="896.9" y2="732" stroke="#8c8f94" stroke-width="2.4" stroke-dasharray="8 7.8" stroke-dashoffset="4.2"/>
<text transform="translate(285.19 586.2) scale(1 1.04)" font-size="40" fill="#00c000" text-anchor="start" >15</text>
<text transform="translate(345.95 586.2) scale(1 1.04)" font-size="40" fill="#1c1c1c" text-anchor="start" >18</text>
<text transform="translate(320.52 629.4) scale(1 1.04)" font-size="40" fill="#f000a0" text-anchor="start" >17</text>
<text transform="translate(380.69 629.4) scale(1 1.04)" font-size="40" fill="#000" text-anchor="start" >20</text>
<text transform="translate(246.47 713.8) scale(1 1.04)" font-size="40" fill="#1c1c1c" text-anchor="start" >16</text>
<text transform="translate(358.2 713.8) scale(1 1.04)" font-size="40" fill="#1c1c1c" text-anchor="start" >19</text>
<text transform="translate(433.19 712.8) scale(1 1.04)" font-size="40" fill="#1c1c1c" text-anchor="start" >21</text>
<text transform="translate(691.48 597.3) scale(1 1.04)" font-size="40" fill="#000" text-anchor="start" >40</text>
<text transform="translate(747.38 597.3) scale(1 1.04)" font-size="40" fill="#000" text-anchor="start" >44</text>
<text transform="translate(803.68 597.3) scale(1 1.04)" font-size="40" fill="#000" text-anchor="start" >48</text>
<text transform="translate(719.28 645.4) scale(1 1.04)" font-size="40" fill="#000" text-anchor="start" >42</text>
<text transform="translate(774.48 645.4) scale(1 1.04)" font-size="40" fill="#000" text-anchor="start" >46</text>
<text transform="translate(831.1 645.4) scale(1 1.04)" font-size="40" fill="#000" text-anchor="start" >50</text>
<text transform="translate(733.28 718.8) scale(1 1.04)" font-size="40" fill="#1c1c1c" text-anchor="start" >43</text>
<text transform="translate(789.58 718.8) scale(1 1.04)" font-size="40" fill="#1c1c1c" text-anchor="start" >47</text>
<text transform="translate(847.1 718.8) scale(1 1.04)" font-size="40" fill="#1c1c1c" text-anchor="start" >51</text>
<text transform="translate(705.58 763) scale(1 1.04)" font-size="40" fill="#1c1c1c" text-anchor="start" >41</text>
<text transform="translate(760.88 763) scale(1 1.04)" font-size="40" fill="#1c1c1c" text-anchor="start" >45</text>
<text transform="translate(817.68 763) scale(1 1.04)" font-size="40" fill="#1c1c1c" text-anchor="start" >49</text>
<text transform="translate(877.3 763) scale(1 1.04)" font-size="40" fill="#1c1c1c" text-anchor="start" >53</text>
<clipPath id="c2"><rect x="0" y="717.6" width="995" height="200"/></clipPath>
<g clip-path="url(#c2)">
<path d="M100.6 840.58 L134.1 839.93 L136.1 839.34 L137.35 838.53 L138.1 837.67 L138.35 837.03 L138.6 834.68 L138.85 824.29 L139.1 785.06 L139.35 700 L141.35 700 L141.85 814.01 L142.1 832.19 L142.35 836.47 L142.6 837.48 L143.1 838.18 L144.35 839.15 L146.1 839.77 L146.6 839.78 L147.1 839.55 L148.1 838.35 L148.35 838.17 L148.6 838.18 L148.85 838.36 L149.85 839.77 L150.35 840.14 L154.1 840.37 L154.6 840.25 L155.1 839.87 L156.1 838.21 L156.35 837.97 L156.6 837.94 L156.85 838.15 L157.85 839.83 L158.35 840.26 L171.6 839.9 L173.1 839.48 L173.35 839.34 L173.6 839 L173.85 837.95 L174.1 834.91 L174.35 827.99 L174.85 802.42 L175.1 793.06 L175.35 793.76 L175.85 813.78 L176.1 814.01 L176.35 789.66 L176.6 717.85 L176.85 700 L179.35 700 L179.6 783.29 L179.85 819.88 L180.1 832.87 L180.35 836.88 L180.6 838.06 L180.85 838.49 L181.85 839.21 L182.6 839.5 L183.1 839.49 L183.35 839.35 L183.6 839.07 L184.6 836.92 L184.85 836.59 L185.1 836.57 L185.35 836.83 L185.85 837.67 L186.1 837.88 L186.35 837.74 L186.6 837.24 L187.35 834.99 L187.6 834.76 L187.85 835.03 L188.85 838.17 L189.1 838.52 L189.35 838.54 L189.6 838.32 L190.1 837.64 L190.35 837.43 L190.6 837.43 L190.85 837.64 L192.1 839.83 L192.6 840.26 L196.85 840.47 L197.35 840.37 L197.85 840.05 L199.1 838.26 L199.35 838.06 L199.6 838.04 L199.85 838.21 L201.1 840.02 L201.6 840.37 L224.1 840.31 L227.35 839.3 L228.1 838.88 L228.35 838.63 L228.6 838.19 L229.35 835.31 L229.6 834.77 L229.85 834.99 L230.35 836.18 L230.6 836.04 L230.85 835.07 L231.35 832.4 L231.6 832.17 L231.85 833 L232.1 834.19 L232.35 834.85 L232.6 834.41 L233.1 831.13 L233.35 830.1 L233.6 830.57 L234.1 833.92 L234.35 834.82 L234.6 834.56 L235.1 832.4 L235.35 832.17 L235.6 833.05 L236.1 835.75 L236.35 836.23 L236.6 835.92 L236.85 835.24 L237.1 834.78 L237.35 835.01 L238.1 837.93 L238.35 838.49 L238.6 838.79 L241.6 840.09 L271.1 840.42 L272.6 839.94 L275.1 838.26 L275.85 838.02 L276.6 838.12 L279.35 839.86 L279.85 840.02 L280.1 840 L280.35 839.86 L280.6 839.55 L280.85 839.01 L281.85 835.42 L282.1 834.97 L282.35 835.03 L282.6 835.58 L283.35 838.46 L283.6 839.22 L283.85 839.74 L284.1 840.06 L284.35 840.21 L284.85 840.27 L285.85 839.93 L286.85 839.11 L288.35 837.49 L288.85 837.23 L289.35 837.25 L289.85 837.54 L291.6 839.13 L292.35 839.46 L293.35 839.47 L294.85 838.89 L295.85 838.09 L296.35 837.4 L296.6 836.66 L296.85 834.78 L297.1 829.51 L297.35 815.18 L297.6 780.22 L297.85 705.34 L298.1 700 L300.85 700 L301.35 804.46 L301.6 825.05 L301.85 832.63 L302.1 834.76 L302.35 834.65 L302.6 833.44 L303.35 827.37 L303.6 826.06 L303.85 825.85 L304.1 826.86 L305.1 835.96 L305.35 837.52 L305.6 838.55 L305.85 839.17 L306.1 839.51 L306.6 839.8 L325.6 840.26 L327.85 839.74 L328.35 839.37 L328.6 839 L329.1 837.62 L329.6 835.78 L329.85 835.18 L330.1 835.03 L330.35 835.35 L330.85 836.46 L331.1 836.52 L331.35 835.8 L331.85 832.53 L332.1 831.31 L332.35 831.19 L332.85 832.42 L333.1 831.83 L333.6 828.43 L333.85 827.98 L334.1 829.25 L334.6 833.27 L334.85 833.73 L335.1 832.88 L335.35 831.62 L335.6 831.03 L335.85 831.63 L336.35 834.52 L336.6 835.37 L336.85 835.52 L337.35 834.95 L337.6 834.89 L337.85 835.18 L338.85 838.19 L339.35 839.18 L339.85 839.63 L359.85 840.54 L360.35 840.39 L360.85 840.01 L361.6 839.17 L361.85 839.01 L362.1 838.99 L362.35 839.13 L363.35 840.2 L363.85 840.47 L375.85 840.54 L376.35 840.39 L376.85 840.01 L377.6 839.17 L377.85 839.01 L378.1 839 L378.35 839.13 L379.35 840.2 L379.85 840.47 L432.35 840.14 L433.6 839.74 L434.35 839.22 L435.35 838.03 L437.85 833.39 L438.35 832.82 L438.6 832.66 L438.85 832.6 L439.1 832.63 L439.6 832.96 L440.35 834.04 L442.35 837.87 L443.35 839.13 L444.35 839.81 L556.85 840.01 L558.1 839.64 L558.6 839.29 L559.1 838.71 L559.6 837.8 L561.35 832.68 L561.85 831.71 L562.1 831.51 L562.35 831.54 L562.6 831.77 L563.1 832.81 L564.6 837.33 L565.1 838.39 L565.6 839.09 L566.35 839.66 L655.85 840.33 L659.1 839.38 L664.35 836.39 L665.85 836.09 L667.35 836.35 L673.6 839.75 L725.35 839.96 L726.85 839.54 L727.35 839.21 L727.85 838.64 L728.35 837.71 L729.1 835.47 L730.35 830.59 L730.6 829.87 L730.85 829.37 L731.1 829.12 L731.35 829.15 L731.6 829.45 L732.1 830.76 L733.6 836.49 L734.1 837.82 L734.6 838.71 L735.1 839.25 L736.1 839.75 L890.6 840.6" fill="none" stroke="#000" stroke-width="2" stroke-linejoin="round" stroke-linecap="round" />
<path d="M136.4 822.6 L137.4 822.6 L137.9 822.6 L138.15 822.6 L138.4 822.6 L138.65 822.6 L138.9 819.82 L139.15 770.14 L139.4 700 L141.4 700 L141.65 770.13 L141.9 819.82 L142.15 822.6 L142.4 822.6 L142.65 822.6 L143.4 822.6 L144.4 822.6 Z" fill="#000" stroke="none"/>
<path d="M173.9 822.6 L174.15 822.6 L174.4 822.6 L174.9 799.95 L175.15 792.32 L175.4 795.14 L175.9 815.03 L176.15 811.68 L176.4 780.02 L176.65 700 L179.15 700 L179.4 719.46 L179.65 793.6 L179.9 822.6 L180.15 822.6 L180.4 822.6 L180.65 822.6 L180.9 822.6 L181.9 822.6 Z" fill="#000" stroke="none"/>
<path d="M295.4 822.6 L296.15 822.6 L296.4 822.6 L296.65 822.6 L296.9 822.6 L297.15 822.6 L297.4 810.35 L297.65 769.18 L297.9 700 L300.9 700 L301.15 769.12 L301.4 810.2 L301.65 822.6 L301.9 822.6 L302.15 822.6 L302.4 822.6 L302.65 822.6 L303.4 822.6 Z" fill="#000" stroke="none"/>
<path d="M319.4 767.4 L322.8 767.4 L324.2 838.6 L317.6 840 Z" fill="#00c000" stroke="#00c000" stroke-width="0.6" stroke-linejoin="round" stroke-linecap="round" />
</g>
<path d="M100.6 840.6 L100.55 903.85 L100.45 904.1 L100.23 904.35 L99.79 904.6 L99.04 904.85 L95.5 905.6 L94.74 905.85 L94.66 906.1 L95.3 906.35 L98.83 907.1 L99.6 907.35 L99.98 907.6 L99.98 907.85 L99.59 908.1 L98.76 908.35 L94.65 909.1 L93.76 909.35 L93.67 909.6 L94.42 909.85 L98.56 910.6 L99.5 910.85 L100.07 911.1 L100.33 911.35 L100.36 911.6 L100.17 911.85 L99.71 912.1 L98.91 912.35 L95.08 913.1 L94.25 913.35 L94.17 913.6 L94.86 913.85 L98.71 914.6 L99.59 914.85 L100.12 915.1 L100.4 915.35 L100.51 915.6 L100.53 915.85 L100.47 916.1 L100.29 916.35 L99.92 916.6 L99.3 916.85 L96.35 917.6 L95.71 917.85 L95.65 918.1 L96.19 918.35 L99.15 919.1 L99.82 919.35 L100.23 919.6 L100.45 919.85 L100.58 923.35 L100.52 923.6 L100.31 923.85 L99.7 924.1 L98.26 924.35 L95.49 924.6 L81.8 925.35 L80.1 925.6 L81.8 925.85 L95.49 926.6 L98.26 926.85 L99.69 927.1 L100.26 927.35 L100.4 927.6 L100.27 927.85 L99.92 928.1 L99.3 928.35 L96.35 929.1 L95.71 929.35 L95.65 929.6 L96.19 929.85 L99.15 930.6 L99.82 930.85 L100.23 931.1 L100.45 931.35 L100.58 938.85 L100.44 939.35 L100.24 939.6 L99.88 939.85 L99.3 940.1 L95.31 941.1 L94.7 941.35 L94.65 941.6 L95.15 941.85 L99.15 942.85 L99.78 943.1 L100.15 943.35 L100.31 943.6 L100.28 943.85 L100.03 944.1 L99.52 944.35 L98.65 944.6 L92.66 945.6 L91.75 945.85 L91.67 946.1 L92.41 946.35 L96.95 947.1 L98.13 947.35 L98.82 947.6 L98.99 947.85 L98.67 948.1 L97.92 948.35 L91.37 949.6 L90.71 949.85 L90.65 950.1 L91.19 950.35 L96.36 951.35 L97.34 951.6 L97.84 951.85 L97.77 952.1 L97.12 952.35 L93.45 953.1 L92.69 953.35 L92.63 953.6 L93.3 953.85 L98.56 954.85 L99.37 955.1 L99.85 955.35 L100.08 955.6 L100.14 955.85 L100.02 956.35 L97.89 959.1 L97.61 959.85 L97.65 960.35 L98.02 961.1 L99.86 963.35 L100.44 964.85 L100.57 989.6 L100.5 989.85 L100.35 990.1 L100.02 990.35 L99.37 990.6 L98.23 990.85 L94.05 991.35 L86.15 992.1 L85.13 992.35 L85.57 992.6 L87.36 992.85 L95.41 993.6 L97.24 993.85 L98.25 994.1 L98.45 994.35 L97.97 994.6 L94.61 995.35 L93.81 995.6 L93.61 995.85 L94.05 996.1 L97.22 996.85 L97.81 997.1 L97.68 997.35 L96.69 997.6 L92.26 998.1 L86.91 998.6 L85.37 998.85 L85.22 999.1 L86.51 999.35 L96.87 1000.35 L98.5 1000.6 L99.53 1000.85 L100.11 1001.1 L100.39 1001.35 L100.57 1001.85 L100.56 1048.35 L100.47 1048.6 L100.29 1048.85 L99.92 1049.1 L99.3 1049.35 L96.35 1050.1 L95.71 1050.35 L95.65 1050.6 L96.18 1050.85 L99.08 1051.6 L99.66 1051.85 L99.88 1052.1 L99.73 1052.35 L99.25 1052.6 L95.3 1053.6 L94.7 1053.85 L94.65 1054.1 L95.15 1054.35 L99.16 1055.35 L99.79 1055.6 L100.19 1055.85 L100.41 1056.1 L100.58 1062.1 L100.53 1062.35 L100.39 1062.6 L100.05 1062.85 L99.34 1063.1 L98.06 1063.35 L88.87 1064.35 L88.1 1064.6 L88.87 1064.85 L95.99 1065.6 L97.74 1065.85 L98.48 1066.1 L98.1 1066.35 L96.69 1066.6 L92.64 1067.1 L91.62 1067.35 L92.07 1067.6 L97.65 1068.35 L98.46 1068.6 L98.17 1068.85 L96.8 1069.1 L89.57 1069.85 L88.23 1070.1 L88.38 1070.35 L89.98 1070.6 L97.36 1071.35 L98.91 1071.6 L99.82 1071.85 L100.29 1072.1 L100.49 1072.35 L100.53 1120.1 L100.33 1120.6 L100.02 1120.85 L99.36 1121.1 L98.06 1121.35 L95.79 1121.6 L92.2 1121.85 L69.43 1122.85 L66.4 1123.1 L66.41 1123.35 L69.36 1123.6 L85.47 1124.35 L89.6 1124.6 L92.32 1124.85 L93.81 1125.1 L94.42 1125.35 L94.52 1125.6 L93.71 1126.6 L93.62 1126.85 L93.61 1127.1 L93.86 1127.6 L94.8 1128.35 L98.76 1130.6 L99.81 1131.6 L100.33 1132.6 L100.6 1213.35" fill="none" stroke="#000" stroke-width="2" stroke-linejoin="round" stroke-linecap="round" />
<path d="M100.5 966.6 L-6 969.5 L100.5 970.8" fill="none" stroke="#0000ff" stroke-width="2.4" stroke-linejoin="round" stroke-linecap="round" />
<path d="M100.5 1057.2 L44 1059 L100.5 1062" fill="none" stroke="#0000ff" stroke-width="2.4" stroke-linejoin="round" stroke-linecap="round" />
<path d="M100.5 1133 L55.6 1134.4 L100.5 1138.6" fill="none" stroke="#0000ff" stroke-width="2.4" stroke-linejoin="round" stroke-linecap="round" />
<text transform="translate(14 957) scale(1 1.04)" font-size="40" fill="#0000ff" text-anchor="start" >P</text>
<text x="14.5" y="1095.4" font-size="40" fill="#0000ff" text-anchor="start" >β</text>
<text x="13" y="1161.8" font-size="40" fill="#0000ff" text-anchor="start" >α</text>
<text transform="translate(208.4 879.6) scale(1 1.04)" font-size="40" fill="#000" text-anchor="start" >51</text>
<text transform="translate(325.9 879.6) scale(1 1.04)" font-size="40" fill="#000" text-anchor="start" >50</text>
<text transform="translate(418.18 879.6) scale(1 1.04)" font-size="40" fill="#000" text-anchor="start" >42,</text>
<text transform="translate(418.18 927.4) scale(1 1.04)" font-size="40" fill="#000" text-anchor="start" >49</text>
<text transform="translate(536.78 879.6) scale(1 1.04)" font-size="40" fill="#000" text-anchor="start" >43,</text>
<text transform="translate(536.78 927.4) scale(1 1.04)" font-size="40" fill="#000" text-anchor="start" >48</text>
<text transform="translate(639.78 879.6) scale(1 1.04)" font-size="40" fill="#000" text-anchor="start" >44,</text>
<text transform="translate(639.78 927.4) scale(1 1.04)" font-size="40" fill="#000" text-anchor="start" >47</text>
<text transform="translate(710.08 879.6) scale(1 1.04)" font-size="40" fill="#000" text-anchor="start" >45,</text>
<text transform="translate(710.08 927.4) scale(1 1.04)" font-size="40" fill="#000" text-anchor="start" >46</text>
<ellipse cx="298.2" cy="920" rx="5" ry="4" fill="#0000ff"/>
<ellipse cx="297.8" cy="926.6" rx="6.25" ry="4.75" fill="#0000ff"/>
<ellipse cx="299.5" cy="954.2" rx="5.5" ry="3.5" fill="#0000ff"/>
<ellipse cx="319.6" cy="951.4" rx="4.75" ry="3.25" fill="#0000ff"/>
<ellipse cx="321.6" cy="954.6" rx="3" ry="1.8" fill="#ff0000"/>
<ellipse cx="231.6" cy="968.4" rx="8.5" ry="4.25" fill="#0000ff"/>
<ellipse cx="298.6" cy="968.4" rx="4" ry="3.5" fill="#0000ff"/>
<ellipse cx="334.5" cy="968.4" rx="5" ry="2.75" fill="#0000ff"/>
<ellipse cx="439" cy="968.4" rx="6" ry="3.75" fill="#0000ff"/>
<ellipse cx="561.9" cy="968.8" rx="6" ry="3.25" fill="#0000ff"/>
<ellipse cx="665.6" cy="968.8" rx="6" ry="2.75" fill="#0000ff"/>
<ellipse cx="730.3" cy="968.8" rx="4.5" ry="3" fill="#0000ff"/>
<ellipse cx="235" cy="1059.6" rx="5.5" ry="3.75" fill="#0000ff" transform="rotate(-12 235 1059.6)"/>
<ellipse cx="298.3" cy="1059.6" rx="4" ry="3.5" fill="#0000ff" transform="rotate(-20 298.3 1059.6)"/>
<ellipse cx="333.6" cy="1059.6" rx="7.5" ry="4.25" fill="#0000ff"/>
<ellipse cx="438.2" cy="1059.6" rx="7.5" ry="4.75" fill="#0000ff"/>
<ellipse cx="561.9" cy="1059.6" rx="7.5" ry="4.25" fill="#0000ff"/>
<ellipse cx="665.6" cy="1059.6" rx="8" ry="4.75" fill="#0000ff"/>
<ellipse cx="730.3" cy="1059.6" rx="6" ry="4.5" fill="#0000ff"/>
<ellipse cx="233.8" cy="1135" rx="3.25" ry="1.8" fill="#0000ff"/>
<ellipse cx="298.9" cy="1135" rx="5" ry="3" fill="#0000ff"/>
<ellipse cx="333" cy="1135" rx="0.8" ry="2" fill="#0000ff"/>
<ellipse cx="438.2" cy="1135" rx="5.5" ry="3" fill="#0000ff"/>
<ellipse cx="561.9" cy="1135" rx="4" ry="2.25" fill="#0000ff"/>
<ellipse cx="665.6" cy="1135" rx="4.5" ry="2.25" fill="#0000ff"/>
<ellipse cx="730.3" cy="1135" rx="4.5" ry="2.75" fill="#0000ff"/>
<ellipse cx="885.3" cy="1061.3" rx="1" ry="1" fill="#0000ff"/>
<line x1="219.1" y1="958.7" x2="750.1" y2="958.7" stroke="#85888c" stroke-width="2" stroke-dasharray="8 8" stroke-dashoffset="13"/>
<line x1="219.1" y1="986.2" x2="750.1" y2="986.2" stroke="#85888c" stroke-width="2" stroke-dasharray="8 8" stroke-dashoffset="6"/>
<line x1="219.1" y1="958.7" x2="219.1" y2="986.2" stroke="#85888c" stroke-width="2" stroke-dasharray="8 8" stroke-dashoffset="10.6"/>
<line x1="750.1" y1="958.7" x2="750.1" y2="986.2" stroke="#85888c" stroke-width="2" stroke-dasharray="8 8" stroke-dashoffset="11"/>
<line x1="219.1" y1="1043.5" x2="750.1" y2="1043.5" stroke="#85888c" stroke-width="2" stroke-dasharray="8 8" stroke-dashoffset="9"/>
<line x1="219.1" y1="1082.7" x2="750.1" y2="1082.7" stroke="#85888c" stroke-width="2" stroke-dasharray="8 8" stroke-dashoffset="6"/>
<line x1="219.1" y1="1043.5" x2="219.1" y2="1082.7" stroke="#85888c" stroke-width="2" stroke-dasharray="8 8" stroke-dashoffset="15.2"/>
<line x1="750.1" y1="1043.5" x2="750.1" y2="1082.7" stroke="#85888c" stroke-width="2" stroke-dasharray="8 8" stroke-dashoffset="12"/>
<line x1="217.1" y1="1122.3" x2="750.3" y2="1122.3" stroke="#85888c" stroke-width="2" stroke-dasharray="8 8" stroke-dashoffset="3"/>
<line x1="217.1" y1="1152" x2="750.3" y2="1152" stroke="#85888c" stroke-width="2" stroke-dasharray="8 8" stroke-dashoffset="4"/>
<line x1="217.1" y1="1122.3" x2="217.1" y2="1152" stroke="#85888c" stroke-width="2" stroke-dasharray="8 8" stroke-dashoffset="5.4"/>
<line x1="750.3" y1="1122.3" x2="750.3" y2="1152" stroke="#85888c" stroke-width="2" stroke-dasharray="8 8" stroke-dashoffset="10"/>
<line x1="460.7" y1="986.2" x2="460.7" y2="1013" stroke="#85888c" stroke-width="2" stroke-dasharray="8 8" stroke-dashoffset="0"/>
<line x1="460.7" y1="1013" x2="503" y2="1013" stroke="#85888c" stroke-width="2" stroke-dasharray="8 8" stroke-dashoffset="11.6"/>
<line x1="460.7" y1="1152" x2="460.7" y2="1191" stroke="#85888c" stroke-width="2" stroke-dasharray="8 8" stroke-dashoffset="0"/>
<line x1="460.7" y1="1191" x2="501" y2="1191" stroke="#85888c" stroke-width="2" stroke-dasharray="8 8" stroke-dashoffset="11.6"/>
<line x1="750.1" y1="1063.8" x2="774" y2="1063.8" stroke="#85888c" stroke-width="2" stroke-dasharray="8 8" stroke-dashoffset="1"/>
<text transform="translate(508 1026.4) scale(1 1.04)" font-size="40" fill="#1c1c1c" text-anchor="start" ><tspan fill="#0000ff" >P</tspan><tspan class="ar" font-size="42" font-weight="350" dy="6">→</tspan><tspan dy="-6" dx="1.3">40–51/53</tspan></text>
<text transform="translate(505.5 1198.8) scale(1 1.04)" font-size="40" fill="#1c1c1c" text-anchor="start" ><tspan fill="#0000ff" >α</tspan><tspan class="ar" font-size="42" font-weight="350" dy="6">→</tspan><tspan dy="-6" dx="1.3">40–51/53</tspan></text>
<text transform="translate(775 1077.2) scale(1 1.04)" font-size="40" fill="#1c1c1c" text-anchor="start" ><tspan fill="#0000ff" >β</tspan><tspan class="ar" font-size="42" font-weight="350" dy="6">→</tspan></text>
<text transform="translate(773.5 1126) scale(1 1.04)" font-size="40" fill="#1c1c1c" text-anchor="start" >40–51/</text>
<text transform="translate(773.5 1171) scale(1 1.04)" font-size="40" fill="#1c1c1c" text-anchor="start" >53</text>
<text transform="translate(119.4 1223) scale(1 1.04)" font-size="39.4" fill="#000" text-anchor="start" ><tspan font-weight="bold">R2</tspan>•10PF<tspan font-size="22.5" dy="12.4">6</tspan></text>
<line x1="905.8" y1="838.8" x2="905.8" y2="1214" stroke="#000" stroke-width="2.8" />
<line x1="905.8" y1="903.8" x2="924.8" y2="903.8" stroke="#000" stroke-width="2.8" />
<line x1="905.8" y1="959.2" x2="915.4" y2="959.2" stroke="#000" stroke-width="2.8" />
<line x1="905.8" y1="1014.5" x2="924.8" y2="1014.5" stroke="#000" stroke-width="2.8" />
<line x1="905.8" y1="1069.9" x2="915.4" y2="1069.9" stroke="#000" stroke-width="2.8" />
<line x1="905.8" y1="1125.3" x2="924.8" y2="1125.3" stroke="#000" stroke-width="2.8" />
<line x1="905.8" y1="1180.7" x2="915.4" y2="1180.7" stroke="#000" stroke-width="2.8" />
<text transform="translate(931.5 912.8) scale(1 1.04)" font-size="40" fill="#000" text-anchor="start" >7</text>
<text transform="translate(931.5 1024.4) scale(1 1.04)" font-size="40" fill="#000" text-anchor="start" >8</text>
<text transform="translate(931.5 1137.6) scale(1 1.04)" font-size="40" fill="#000" text-anchor="start" >9</text>
<text transform="translate(987.6 1087.6) rotate(-90)" font-size="40" fill="#000">δ / <tspan dx="6.3">ppm</tspan></text>
<line x1="99.4" y1="1245" x2="892.4" y2="1245" stroke="#000" stroke-width="2.8" />
<line x1="165.6" y1="1245" x2="165.6" y2="1263" stroke="#000" stroke-width="2.8" />
<line x1="260.9" y1="1245" x2="260.9" y2="1254" stroke="#000" stroke-width="2.8" />
<line x1="356.2" y1="1245" x2="356.2" y2="1263" stroke="#000" stroke-width="2.8" />
<line x1="451.4" y1="1245" x2="451.4" y2="1254" stroke="#000" stroke-width="2.8" />
<line x1="546.9" y1="1245" x2="546.9" y2="1263" stroke="#000" stroke-width="2.8" />
<line x1="642.1" y1="1245" x2="642.1" y2="1254" stroke="#000" stroke-width="2.8" />
<line x1="737.8" y1="1245" x2="737.8" y2="1263" stroke="#000" stroke-width="2.8" />
<line x1="832.9" y1="1245" x2="832.9" y2="1254" stroke="#000" stroke-width="2.8" />
<text transform="translate(163.8 1300.6) scale(1 1.04)" font-size="40" fill="#000" text-anchor="middle" >2</text>
<text transform="translate(358.3 1300.6) scale(1 1.04)" font-size="40" fill="#000" text-anchor="middle" >1</text>
<text transform="translate(548.2 1300.6) scale(1 1.04)" font-size="40" fill="#000" text-anchor="middle" >0</text>
<text transform="translate(736.8 1300.6) scale(1 1.04)" font-size="40" fill="#000" text-anchor="middle" >-1</text>
<text x="443.5" y="1329.2" font-size="40" fill="#000" text-anchor="start" >δ / <tspan dx="-4.3">ppm</tspan></text>
</svg></body></html>
